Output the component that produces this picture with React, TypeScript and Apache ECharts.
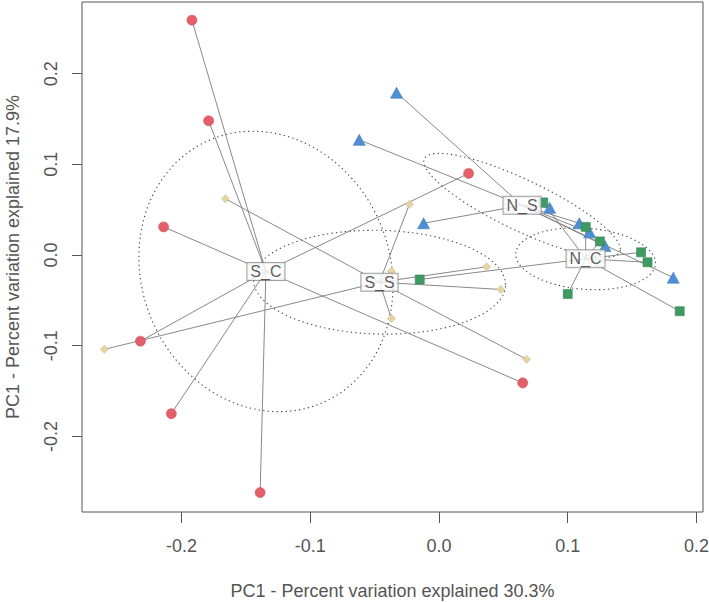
import React, { useEffect, useRef } from "react";
import * as echarts from "echarts";

// ---- data ----
const groupNames = ["S_C", "S_S", "N_S", "N_C"];

const sCPoints: number[][] = [
  [-0.192, 0.259], [-0.179, 0.148], [-0.214, 0.031], [-0.232, -0.095],
  [-0.208, -0.175], [-0.139, -0.262], [0.023, 0.090], [0.065, -0.141],
];
const sSPoints: number[][] = [
  [-0.166, 0.062], [-0.260, -0.104], [-0.023, 0.056], [-0.037, -0.018],
  [0.037, -0.013], [0.048, -0.038], [-0.037, -0.070], [0.068, -0.115],
];
const nSPoints: number[][] = [
  [-0.033, 0.179], [-0.062, 0.127], [-0.012, 0.035], [0.086, 0.052],
  [0.109, 0.035], [0.117, 0.025], [0.129, 0.010], [0.182, -0.025],
];
const nCPoints: number[][] = [
  [-0.015, -0.027], [0.081, 0.058], [0.114, 0.031], [0.125, 0.015],
  [0.157, 0.003], [0.162, -0.008], [0.100, -0.043], [0.187, -0.062],
];

const xTicks = [-0.2, -0.1, 0, 0.1, 0.2];
const yTicks = [-0.2, -0.1, 0, 0.1, 0.2];

const xTitle = "PC1 - Percent variation explained 30.3%";
const yTitle = "PC1 - Percent variation explained 17.9%";

// ---- styles ----
const FONT = "'Liberation Sans', Arial, Helvetica, sans-serif";
const groupStyles = [
  { symbol: "circle", size: 10, color: "#e3606b", border: "#d24f5a" },
  { symbol: "diamond", size: 8, color: "#e6d4a4", border: "#cdb888" },
  { symbol: "triangle", size: [12, 11], color: "#4f8ed2", border: "#3f7cc0" },
  { symbol: "rect", size: 9, color: "#3f9a63", border: "#348653" },
];

// 95% confidence ellipse of the group centroid (standard error)
const CHISQ_95_2DF = 5.991;

function centroid(pts: number[][]) {
  const n = pts.length;
  let sx = 0, sy = 0;
  pts.forEach((p) => { sx += p[0]; sy += p[1]; });
  return [sx / n, sy / n];
}

function ellipsePoints(pts: number[][]) {
  const n = pts.length;
  const [mx, my] = centroid(pts);
  let sxx = 0, syy = 0, sxy = 0;
  pts.forEach((p) => {
    const dx = p[0] - mx, dy = p[1] - my;
    sxx += dx * dx; syy += dy * dy; sxy += dx * dy;
  });
  sxx /= n - 1; syy /= n - 1; sxy /= n - 1;
  // standard error covariance
  sxx /= n; syy /= n; sxy /= n;
  const a = Math.sqrt(sxx);
  const b = sxy / a;
  const c = Math.sqrt(Math.max(syy - b * b, 0));
  const t = Math.sqrt(CHISQ_95_2DF);
  const out: number[][] = [];
  const N = 120;
  for (let i = 0; i <= N; i++) {
    const th = (i / N) * Math.PI * 2;
    const ct = Math.cos(th), st = Math.sin(th);
    out.push([mx + t * a * ct, my + t * (b * ct + c * st)]);
  }
  return out;
}

export default function App() {
  const ref = useRef<HTMLDivElement>(null);

  useEffect(() => {
    document.body.style.margin = "0";
    const chart = echarts.init(ref.current!, null, { renderer: "svg" });
    const groups = [sCPoints, sSPoints, nSPoints, nCPoints];

    const series: any[] = [];

    groups.forEach((pts, gi) => {
      series.push({
        type: "line",
        name: groupNames[gi] + "_ellipse",
        data: ellipsePoints(pts),
        showSymbol: false,
        symbol: "none",
        smooth: false,
        silent: true,
        z: 1,
        lineStyle: { color: "#444", width: 1.1, type: [1.3, 3.2] },
      });
    });

    groups.forEach((pts) => {
      const c = centroid(pts);
      series.push({
        type: "lines",
        coordinateSystem: "cartesian2d",
        silent: true,
        z: 2,
        lineStyle: { color: "#7a7a7a", width: 0.9, opacity: 1 },
        data: pts.map((p) => ({ coords: [c, p] })),
      });
    });

    groups.forEach((pts, gi) => {
      const st = groupStyles[gi];
      series.push({
        type: "scatter",
        name: groupNames[gi],
        data: pts,
        symbol: st.symbol,
        symbolSize: st.size,
        silent: true,
        z: 3,
        itemStyle: { color: st.color, borderColor: st.border, borderWidth: 0.6, opacity: 1 },
      });
    });

    series.push({
      type: "scatter",
      name: "labels",
      data: groups.map((pts, gi) => ({ value: centroid(pts), name: groupNames[gi] })),
      symbol: "circle",
      symbolSize: 2,
      silent: true,
      z: 5,
      itemStyle: { color: "rgba(0,0,0,0)" },
      label: {
        show: true,
        position: "inside",
        formatter: (p: any) => p.name,
        fontFamily: FONT,
        fontSize: 16,
        lineHeight: 15,
        color: "#333",
        backgroundColor: "#fff",
        borderColor: "#8a8a8a",
        borderWidth: 1,
        padding: [1, 3, 1, 3],
      },
    });

    chart.setOption({
      animation: false,
      backgroundColor: "#fff",
      grid: {
        left: 82, right: 6, top: 2, bottom: 90,
        show: true, borderColor: "#555", borderWidth: 1, backgroundColor: "transparent",
        containLabel: false, outerBoundsMode: "none",
      },
      xAxis: {
        type: "value",
        min: -0.2774,
        max: 0.2051,
        axisLine: { show: false, onZero: false },
        axisTick: { show: true, length: 11, customValues: xTicks, lineStyle: { color: "#555", width: 1 } },
        axisLabel: {
          customValues: xTicks,
          formatter: (v: number) => v.toFixed(1),
          fontSize: 18, fontFamily: FONT, color: "#555", margin: 25,
        },
        splitLine: { show: false },
        name: xTitle,
        nameLocation: "middle",
        nameGap: 70,
        nameTextStyle: { fontSize: 18, fontFamily: FONT, color: "#555" },
      },
      yAxis: {
        type: "value",
        min: -0.2834,
        max: 0.279,
        axisLine: { show: false, onZero: false },
        axisTick: { show: true, length: 10, customValues: yTicks, lineStyle: { color: "#555", width: 1 } },
        axisLabel: {
          customValues: yTicks,
          formatter: (v: number) => v.toFixed(1),
          fontSize: 18, fontFamily: FONT, color: "#555", margin: 22, rotate: 90,
        },
        splitLine: { show: false },
        name: yTitle,
        nameLocation: "middle",
        nameRotate: 90,
        nameGap: 60,
        nameTextStyle: { fontSize: 18, fontFamily: FONT, color: "#555" },
      },
      series,
    });

    return () => chart.dispose();
  }, []);

  return <div ref={ref} style={{ width: 709, height: 602 }} />;
}
